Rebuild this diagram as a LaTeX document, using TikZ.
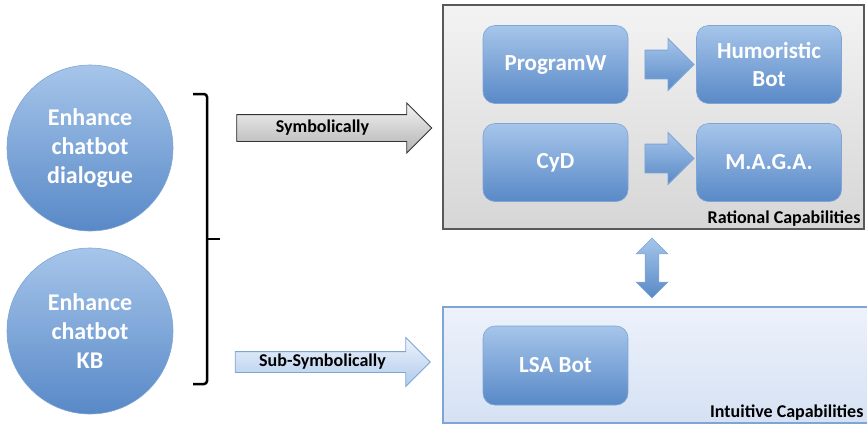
\documentclass[tikz,border=0pt]{standalone}
\usepackage{fontspec}
\setmainfont{Carlito}
\usetikzlibrary{calc,positioning,shapes.arrows}
\definecolor{bluetop}{HTML}{A6C5EA}
\definecolor{bluebot}{HTML}{5889C7}
\definecolor{blueline}{HTML}{7EA5D6}
\definecolor{graytop}{HTML}{F3F3F3}
\definecolor{graybot}{HTML}{D6D6D6}
\definecolor{paletop}{HTML}{EDF2FB}
\definecolor{palebot}{HTML}{D5E1F3}

\tikzset{
  goal/.style={circle, minimum size=166pt, inner sep=0pt, top color=bluetop, bottom color=bluebot, draw=blueline, line width=0.6pt, text=white, align=center, font=\bfseries\fontsize{24}{29}\selectfont},
  bot/.style={rectangle, rounded corners=12pt, minimum width=145pt, minimum height=78pt, top color=bluetop, bottom color=bluebot, draw=blueline, line width=0.6pt, text=white, align=center, font=\bfseries\fontsize{23}{28}\selectfont},
  panel/.style={rectangle, inner sep=0pt, line width=1.2pt},
  blockarrow/.style={single arrow, inner xsep=0pt, single arrow head extend=11.5pt, line width=0.8pt},
  caption/.style={font=\bfseries\fontsize{18}{20}\selectfont, inner sep=2pt}
}

\begin{document}
\begin{tikzpicture}[x=1pt, y=-1pt]
\useasboundingbox (0,0) rectangle (867,424);

\node[panel, minimum width=421pt, minimum height=224pt, top color=graytop, bottom color=graybot, draw=black!65] (rational) at (653.5,117) {};
\node[panel, minimum width=428pt, minimum height=116pt, top color=paletop, bottom color=palebot, draw=blueline] (intuitive) at (657,365) {};
\node[caption, anchor=south east] at ($(rational.south east)+(-2,-1)$) {Rational Capabilities};
\node[caption, anchor=south east] at ($(intuitive.south east)+(-6,-1)$) {Intuitive Capabilities};

\node[goal] (dialogue) at (90,148) {Enhance\\chatbot\\dialogue};
\node[goal] (kb) at (90,331) {Enhance\\chatbot\\KB};

\draw[line width=2.5pt, rounded corners=3pt] (193,94) -- (207,94) -- (207,384) -- (193,384);
\draw[line width=2.5pt] (207,239) -- (220,239);

\node[bot] (programw) at (555.5,64.5) {ProgramW};
\node[bot] (humor) at (769,64.5) {Humoristic\\Bot};
\node[bot] (cyd) at (555.5,162.5) {CyD};
\node[bot] (maga) at (769,162.5) {M.A.G.A.};
\node[bot, minimum height=79pt] (lsa) at (555.5,365.5) {LSA Bot};

\node[blockarrow, inner ysep=14pt, minimum height=49pt, top color=bluetop, bottom color=bluebot, draw=blueline] (pw2hb) at ($(programw.east)!0.5!(humor.west)$) {};
\node[blockarrow, inner ysep=14pt, minimum height=49pt, top color=bluetop, bottom color=bluebot, draw=blueline] (cyd2maga) at ($(cyd.east)!0.5!(maga.west)+(0,-4)$) {};

\node[double arrow, shape border rotate=90, inner xsep=6.5pt, inner ysep=0pt, double arrow head extend=9pt, minimum height=60pt, top color=bluetop, bottom color=bluebot, draw=blueline, line width=0.6pt] (link) at (652,268) {};

\node[blockarrow, inner ysep=13pt, minimum height=195pt, top color=graytop, bottom color=black!30, draw=black!80] (symb) at (327.5,128) {};
\node[caption] at ($(symb)+(-5,0)$) {Symbolically};
\node[blockarrow, inner ysep=10pt, single arrow head extend=14pt, minimum height=195pt, top color=paletop, bottom color=bluetop!90, draw=blueline] (subsymb) at (327.5,362) {};
\node[caption] at ($(subsymb)+(-5,0)$) {Sub-Symbolically};
\end{tikzpicture}
\end{document}
